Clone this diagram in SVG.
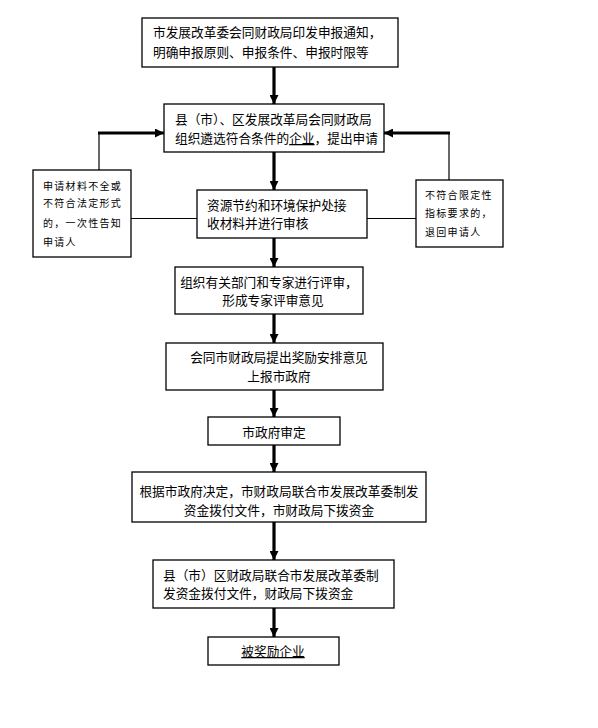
<svg xmlns="http://www.w3.org/2000/svg" width="598" height="728" viewBox="0 0 598 728">
<style>
.box{fill:#fff;stroke:#000;stroke-width:1.3}
.t{font-family:"Noto Sans CJK SC","Noto Sans CJK TC",sans-serif;font-size:12.7px;fill:#000}
.s{font-family:"Noto Sans CJK SC","Noto Sans CJK TC",sans-serif;font-size:10px;letter-spacing:1.3px;fill:#000}
.c{text-anchor:middle}
.u{text-decoration:underline}
.thick{stroke:#000;stroke-width:3.2;fill:none}
.thin{stroke:#000;stroke-width:1.2;fill:none}
</style>
<defs>
<marker id="ah" viewBox="0 0 10 10" refX="10" refY="5" markerUnits="userSpaceOnUse" markerWidth="9" markerHeight="9" orient="auto">
<path d="M0,0 L10,5 L0,10 z" fill="#000"/>
</marker>
</defs>
<rect width="598" height="728" fill="#fff"/>
<g id="connectors">
<line class="thick" x1="274" y1="67" x2="274" y2="104" marker-end="url(#ah)"/>
<line class="thick" x1="274" y1="152" x2="274" y2="190" marker-end="url(#ah)"/>
<line class="thick" x1="274" y1="238" x2="274" y2="267" marker-end="url(#ah)"/>
<line class="thick" x1="274" y1="314" x2="274" y2="343" marker-end="url(#ah)"/>
<line class="thick" x1="274" y1="390" x2="274" y2="417" marker-end="url(#ah)"/>
<line class="thick" x1="274" y1="445" x2="274" y2="472" marker-end="url(#ah)"/>
<line class="thick" x1="274" y1="522" x2="274" y2="560" marker-end="url(#ah)"/>
<line class="thick" x1="274" y1="608" x2="274" y2="637" marker-end="url(#ah)"/>
<line class="thin" x1="99" y1="170" x2="99" y2="133"/>
<line class="thick" x1="98" y1="133" x2="164" y2="133" marker-end="url(#ah)"/>
<line class="thin" x1="449" y1="180" x2="449" y2="133"/>
<line class="thick" x1="450" y1="133" x2="384" y2="133" marker-end="url(#ah)"/>
<line class="thin" x1="131" y1="218.5" x2="197" y2="218.5"/>
<line class="thin" x1="367" y1="218.5" x2="416" y2="218.5"/>
</g>
<g id="n1">
<rect class="box" x="142" y="18" width="256" height="49"/>
<text class="t" x="153" y="37">市发展改革委会同财政局印发申报通知，</text>
<text class="t" x="153" y="57">明确申报原则、申报条件、申报时限等</text>
</g>
<g id="n2">
<rect class="box" x="164" y="104" width="220" height="48"/>
<text class="t" x="175" y="124">县（市）、区发展改革局会同财政局</text>
<text class="t" x="175" y="143">组织遴选符合条件的<tspan class="u">企业</tspan>，提出申请</text>
</g>
<g id="n3">
<rect class="box" x="197" y="190" width="170" height="48"/>
<text class="t" x="207" y="210">资源节约和环境保护处接</text>
<text class="t" x="207" y="228">收材料并进行审核</text>
</g>
<g id="nLeft">
<rect class="box" x="33" y="170" width="98" height="87"/>
<text class="s" x="43" y="190">申请材料不全或</text>
<text class="s" x="43" y="207">不符合法定形式</text>
<text class="s" x="43" y="227">的，一次性告知</text>
<text class="s" x="43" y="246">申请人</text>
</g>
<g id="nRight">
<rect class="box" x="416" y="180" width="87" height="67"/>
<text class="s" x="425" y="199">不符合限定性</text>
<text class="s" x="425" y="217">指标要求的，</text>
<text class="s" x="425" y="236">退回申请人</text>
</g>
<g id="n4">
<rect class="box" x="175" y="267" width="188" height="47"/>
<text class="t c" x="269" y="287">组织有关部门和专家进行评审，</text>
<text class="t c" x="273" y="305">形成专家评审意见</text>
</g>
<g id="n5">
<rect class="box" x="166" y="343" width="217" height="47"/>
<text class="t c" x="279" y="362">会同市财政局提出奖励安排意见</text>
<text class="t c" x="279" y="381">上报市政府</text>
</g>
<g id="n6">
<rect class="box" x="208" y="417" width="132" height="28"/>
<text class="t c" x="274" y="437">市政府审定</text>
</g>
<g id="n7">
<rect class="box" x="132" y="472" width="294" height="50"/>
<text class="t c" x="279" y="496">根据市政府决定，市财政局联合市发展改革委制发</text>
<text class="t c" x="279" y="515">资金拨付文件，市财政局下拨资金</text>
</g>
<g id="n8">
<rect class="box" x="153" y="560" width="241" height="48"/>
<text class="t" x="163" y="580">县（市）区财政局联合市发展改革委制</text>
<text class="t" x="163" y="598">发资金拨付文件，财政局下拨资金</text>
</g>
<g id="n9">
<rect class="box" x="208" y="637" width="131" height="28"/>
<text class="t c u" x="273" y="656">被奖励企业</text>
</g>
</svg>
